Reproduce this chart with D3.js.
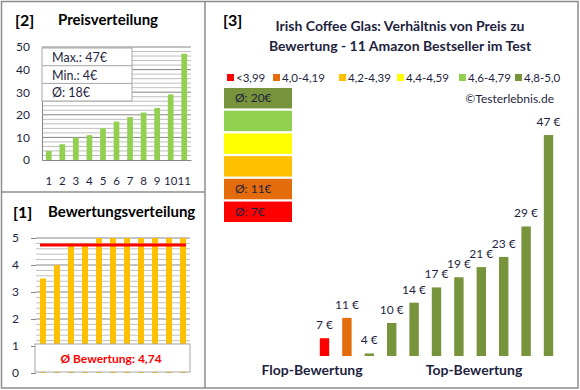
<!DOCTYPE html>
<html>
<head>
<meta charset="utf-8">
<script src="https://cdn.jsdelivr.net/npm/d3@7"></script>
<style>
  body { margin: 0; background: #fff; }
  svg { display: block; font-family: Lato, "Open Sans", sans-serif; }
</style>
</head>
<body>
<div id="chart"></div>
<script>
// Price distribution (sorted)
const priceIdx = ['1', '2', '3', '4', '5', '6', '7', '8', '9', '10', '11'];
const prices = [4, 7, 10, 11, 14, 17, 19, 21, 23, 29, 47];
const priceStats = ['Max.: 47€', 'Min.: 4€', 'Ø: 18€'];

// Rating distribution
const ratings = [3.5, 4.0, 4.8, 4.8, 5, 5, 5, 5, 5, 5, 5];
const ratingAvg = 4.74;
const ratingLabel = 'Ø Bewertung: 4,74';

// Price vs rating (right panel)
const barPrices = [7, 11, 4, 10, 14, 17, 19, 21, 23, 29, 47];
const barClass = [0, 1, 5, 5, 5, 5, 5, 5, 5, 5, 5];

const classLabels = ['<3,99', '4,0-4,19', '4,2-4,39', '4,4-4,59', '4,6-4,79', '4,8-5,0'];
const classColors = ['#FF0000', '#E46C0A', '#FFC000', '#FFFF00', '#92D050', '#77933C'];
const classAvgText = ['Ø: 7€', 'Ø: 11€', '', '', '', 'Ø: 20€'];

const width = 580, height = 390;
const svg = d3.select('#chart').append('svg')
    .attr('width', width)
    .attr('height', height);

// panel frames
const frame = '#8c8c8c';
svg.append('rect').attr('x', 1.5).attr('y', 1.5).attr('width', 576.5).attr('height', 386.5)
    .attr('fill', 'none').attr('stroke', frame).attr('stroke-width', 1.5);
svg.append('line').attr('x1', 205).attr('x2', 205).attr('y1', 1.5).attr('y2', 388)
    .attr('stroke', frame).attr('stroke-width', 1.5);
svg.append('line').attr('x1', 1.5).attr('x2', 205).attr('y1', 192).attr('y2', 192)
    .attr('stroke', frame).attr('stroke-width', 1.5);

// ---------- [2] Preisverteilung ----------
svg.append('text').attr('x', 15).attr('y', 26).attr('font-size', 16).attr('font-weight', 'bold')
    .text('[2]');
svg.append('text').attr('x', 58).attr('y', 25).attr('font-size', 15).attr('font-weight', 'bold')
    .text('Preisverteilung');

const px = d3.scaleBand().domain(priceIdx).range([42, 191]).paddingInner(0.58).paddingOuter(0.29);
const py = d3.scaleLinear().domain([0, 50]).range([160, 47]);

const pg = svg.append('g');
pg.selectAll('.minor').data(d3.range(2, 51, 2).filter(v => v % 10 !== 0)).enter().append('line')
    .attr('x1', 42).attr('x2', 191).attr('y1', d => py(d)).attr('y2', d => py(d))
    .attr('stroke', '#bfbfbf').attr('stroke-width', 1);
pg.selectAll('.major').data(d3.range(10, 51, 10)).enter().append('line')
    .attr('x1', 42).attr('x2', 191).attr('y1', d => py(d)).attr('y2', d => py(d))
    .attr('stroke', '#868686').attr('stroke-width', 1);

pg.selectAll('.bar').data(prices).enter().append('rect')
    .attr('x', (d, i) => px(priceIdx[i]))
    .attr('y', d => py(d))
    .attr('width', px.bandwidth())
    .attr('height', d => py(0) - py(d))
    .attr('fill', '#92D050');

const pyAxis = pg.append('g').attr('transform', 'translate(42,0)')
    .call(d3.axisLeft(py).tickValues(d3.range(0, 51, 10)).tickSize(0).tickPadding(12));
pyAxis.select('.domain').attr('stroke', '#868686');
pyAxis.selectAll('text').attr('font-size', 12).attr('font-family', 'Lato').attr('fill', '#1f1f3f');

const pxAxis = pg.append('g').attr('transform', 'translate(0,160)')
    .call(d3.axisBottom(px).tickSize(0).tickPadding(17));
pxAxis.select('.domain').attr('stroke', '#868686');
pxAxis.selectAll('text').attr('font-size', 11.5).attr('font-family', 'Lato').attr('fill', '#1f1f3f');

// stats box
const sb = pg.append('g');
sb.append('rect').attr('x', 42).attr('y', 48).attr('width', 90).attr('height', 53)
    .attr('fill', '#fff').attr('stroke', '#a6a6a6');
priceStats.forEach((t, i) => {
    if (i > 0) sb.append('line').attr('x1', 42).attr('x2', 132)
        .attr('y1', 48 + i * 17.7).attr('y2', 48 + i * 17.7).attr('stroke', '#a6a6a6');
    sb.append('text').attr('x', 52).attr('y', 62 + i * 17.7).attr('font-size', 12.5)
        .attr('fill', '#1f1f3f').text(t);
});

// ---------- [1] Bewertungsverteilung ----------
svg.append('text').attr('x', 13).attr('y', 218).attr('font-size', 16).attr('font-weight', 'bold')
    .text('[1]');
svg.append('text').attr('x', 48).attr('y', 217).attr('font-size', 15).attr('font-weight', 'bold')
    .text('Bewertungsverteilung');

const rx = d3.scaleBand().domain(priceIdx).range([36, 190]).paddingInner(0.57).paddingOuter(0.28);
const ry = d3.scaleLinear().domain([0, 5]).range([373, 238]);

const rg = svg.append('g');
rg.selectAll('.minor').data(d3.range(1, 26).filter(v => v % 5 !== 0).map(v => v / 5)).enter().append('line')
    .attr('x1', 36).attr('x2', 190).attr('y1', d => ry(d)).attr('y2', d => ry(d))
    .attr('stroke', '#bfbfbf');
rg.selectAll('.major').data(d3.range(1, 6)).enter().append('line')
    .attr('x1', 36).attr('x2', 190).attr('y1', d => ry(d)).attr('y2', d => ry(d))
    .attr('stroke', '#868686');

rg.selectAll('.bar').data(ratings).enter().append('rect')
    .attr('x', (d, i) => rx(priceIdx[i]))
    .attr('y', d => ry(d))
    .attr('width', rx.bandwidth())
    .attr('height', d => ry(0) - ry(d))
    .attr('fill', '#FFC000');

rg.append('line').attr('x1', 40).attr('x2', 186)
    .attr('y1', ry(ratingAvg)).attr('y2', ry(ratingAvg))
    .attr('stroke', '#FF0000').attr('stroke-width', 3);

const ryAxis = rg.append('g').attr('transform', 'translate(36,0)')
    .call(d3.axisLeft(ry).ticks(5).tickSize(5).tickPadding(12));
ryAxis.select('.domain').remove();
ryAxis.selectAll('line').attr('stroke', '#868686').attr('x2', 0).attr('x1', -5);
ryAxis.selectAll('text').attr('font-size', 12).attr('font-family', 'Lato').attr('fill', '#1f1f3f');

rg.append('rect').attr('x', 35).attr('y', 344).attr('width', 155).attr('height', 28)
    .attr('fill', '#fff').attr('stroke', '#a6a6a6');
rg.append('text').attr('x', 111).attr('y', 363).attr('text-anchor', 'middle')
    .attr('font-size', 12).attr('font-weight', 'bold').attr('fill', '#FF0000').text(ratingLabel);

// ---------- [3] Preis vs Bewertung ----------
svg.append('text').attr('x', 223).attr('y', 26).attr('font-size', 16).attr('font-weight', 'bold')
    .text('[3]');
const title = svg.append('text').attr('text-anchor', 'middle').attr('font-size', 14)
    .attr('font-weight', 'bold').attr('fill', '#1f1f3f');
title.append('tspan').attr('x', 400).attr('y', 31).text('Irish Coffee Glas: Verhältnis von Preis zu');
title.append('tspan').attr('x', 400).attr('y', 51).text('Bewertung - 11 Amazon Bestseller im Test');

// legend
const legX = [227, 273, 339, 397, 459, 515];
classLabels.forEach((t, i) => {
    svg.append('rect').attr('x', legX[i]).attr('y', 74).attr('width', 7).attr('height', 7)
        .attr('fill', classColors[i]);
    svg.append('text').attr('x', legX[i] + 9).attr('y', 82).attr('font-size', 11.5)
        .attr('fill', '#1f1f3f').text(t);
});

svg.append('text').attr('x', 554).attr('y', 103).attr('text-anchor', 'end')
    .attr('font-size', 12).attr('fill', '#1f1f3f').text('©Testerlebnis.de');

// colour boxes with class averages (top = best)
const boxY = d3.scaleBand().domain(d3.range(5, -1, -1)).range([88, 222]).paddingInner(0.1);
classColors.forEach((c, i) => {
    svg.append('rect').attr('x', 224).attr('y', boxY(i)).attr('width', 68).attr('height', boxY.bandwidth())
        .attr('fill', c);
    if (classAvgText[i]) svg.append('text').attr('x', 235).attr('y', boxY(i) + boxY.bandwidth() / 2 + 4)
        .attr('font-size', 12).attr('fill', '#1f1f3f').text(classAvgText[i]);
});

const bx = d3.scaleBand().domain(d3.range(barPrices.length)).range([313.3, 559.7])
    .paddingInner(0.58).paddingOuter(0.29);
const by = d3.scaleLinear().domain([3.5, 50]).range([356, 119.8]);

svg.selectAll('.pbar').data(barPrices).enter().append('rect')
    .attr('x', (d, i) => bx(i))
    .attr('y', d => by(d))
    .attr('width', bx.bandwidth())
    .attr('height', d => by(3.5) - by(d))
    .attr('fill', (d, i) => classColors[barClass[i]]);

svg.selectAll('.plabel').data(barPrices).enter().append('text')
    .attr('x', (d, i) => bx(i) + bx.bandwidth() / 2)
    .attr('y', d => by(d) - 9)
    .attr('text-anchor', 'middle')
    .attr('font-size', 12).attr('fill', '#1f1f3f')
    .text(d => d + ' €');

svg.append('text').attr('x', 312).attr('y', 375).attr('text-anchor', 'middle')
    .attr('font-size', 14).attr('font-weight', 'bold').attr('fill', '#1f1f3f').text('Flop-Bewertung');
svg.append('text').attr('x', 474).attr('y', 375).attr('text-anchor', 'middle')
    .attr('font-size', 14).attr('font-weight', 'bold').attr('fill', '#1f1f3f').text('Top-Bewertung');
</script>
</body>
</html>
